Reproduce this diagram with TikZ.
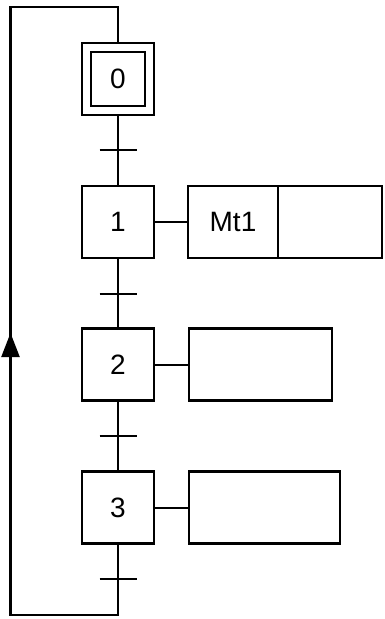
\documentclass[tikz,border=0pt]{standalone}
\usepackage{fontspec}
\setmainfont{Liberation Sans}
\usetikzlibrary{arrows.meta}
\begin{document}
\begin{tikzpicture}[x=1pt,y=-1pt,line width=2.3pt,
  every node/.style={outer sep=0pt},
  stepbox/.style={draw,rectangle,minimum width=72pt,minimum height=72pt,inner sep=0pt,font=\fontsize{28}{32}\selectfont},
  actbox/.style={draw,rectangle,minimum height=72pt,inner sep=0pt,font=\fontsize{28}{32}\selectfont},
  link/.style={line width=2pt},
  tick/.style={line width=2pt}]
\useasboundingbox (0,0) rectangle (385,619);
% steps
\node[stepbox] (s0) at (118,79) {};
\node[draw,rectangle,minimum width=54pt,minimum height=54pt,inner sep=0pt,font=\fontsize{28}{32}\selectfont] (s0i) at (118,79) {0};
\node[stepbox] (s1) at (118,222) {1};
\node[stepbox] (s2) at (118,364.5) {2};
\node[stepbox] (s3) at (118,507.5) {3};
% actions
\node[actbox,minimum width=90pt] (a1a) at (233,222) {Mt1};
\node[actbox,minimum width=104pt,anchor=west] (a1b) at (a1a.east) {};
\node[actbox,minimum width=143pt] (a2) at (260.5,364.5) {};
\node[actbox,minimum width=151pt] (a3) at (264.5,507.5) {};
% links
\draw[link] (s1.east) -- (a1a.west);
\draw[link] (s2.east) -- (a2.west);
\draw[link] (s3.east) -- (a3.west);
% vertical flow
\draw (s0.south) -- (s1.north);
\draw (s1.south) -- (s2.north);
\draw (s2.south) -- (s3.north);
% transitions
\coordinate (t0) at (118,150);
\coordinate (t1) at (118,293.5);
\coordinate (t2) at (118,436);
\coordinate (t3) at (118,579);
\foreach \t in {t0,t1,t2,t3}{
  \draw[tick] ([xshift=-18.5pt]\t) -- ([xshift=18.5pt]\t);
}
% loop back
\coordinate (br) at (118,615);
\coordinate (bl) at (10.5,615);
\coordinate (ar) at (10.5,333);
\coordinate (tl) at (10.5,7);
\coordinate (tr) at (118,7);
\draw[line join=miter] (s3.south) -- (br) -- (bl) -- (tl) -- (tr) -- (s0.north);
\draw[-{Triangle[length=24pt,width=18pt]}] ([yshift=-30pt]ar) -- (ar);
\end{tikzpicture}
\end{document}
